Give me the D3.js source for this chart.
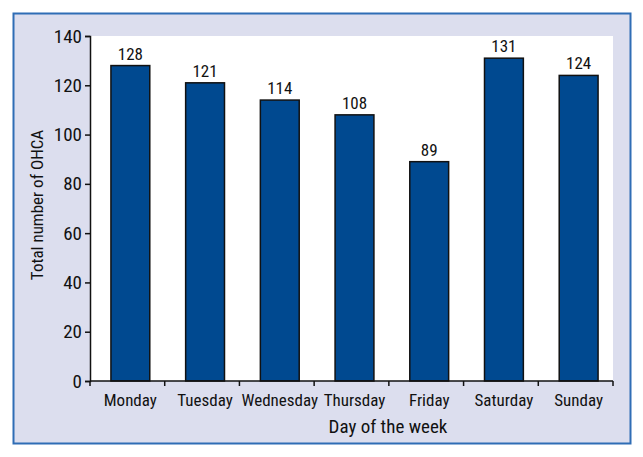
<!DOCTYPE html>
<html>
<head>
<meta charset="utf-8">
<script src="https://cdn.jsdelivr.net/npm/d3@7"></script>
<style>
  body { margin: 0; background: #fff; }
  text { font-family: "Liberation Sans Narrow", "Roboto Condensed", "Liberation Sans", sans-serif; fill: #111; }
</style>
</head>
<body>
<div id="chart"></div>
<script>
// data
var days = ["Monday", "Tuesday", "Wednesday", "Thursday", "Friday", "Saturday", "Sunday"]
var totals = [128, 121, 114, 108, 89, 131, 124]
var yTicks = [0, 20, 40, 60, 80, 100, 120, 140]

var svgWidth = 643
var svgHeight = 457

var margin = { top: 36, right: 30, bottom: 76, left: 90 }
var width = 613 - margin.left
var height = 381 - margin.top

var svg = d3.select("#chart")
  .append("svg")
  .attr("width", svgWidth)
  .attr("height", svgHeight)

// outer frame
svg.append("rect")
  .attr("x", 13.5)
  .attr("y", 13.5)
  .attr("width", 617)
  .attr("height", 430)
  .attr("fill", "#dcdeee")
  .attr("stroke", "#2f6db5")
  .attr("stroke-width", 2)

var chartGroup = svg.append("g")
  .attr("transform", `translate(${margin.left}, ${margin.top})`)

// white plot area
chartGroup.append("rect")
  .attr("width", width)
  .attr("height", height)
  .attr("fill", "#fff")

// category boundaries (axis ticks) and bars, bars sit a little right of centre
var xEdges = d3.scaleBand()
  .domain(days)
  .range([0, width])

var xScale = d3.scaleBand()
  .domain(days)
  .range([3, width + 3])
  .paddingInner(0.48)
  .paddingOuter(0.24)

var yScale = d3.scaleLinear()
  .domain([0, 140])
  .range([height, 0])

// bars
chartGroup.selectAll("rect.bar")
  .data(days)
  .enter()
  .append("rect")
  .attr("class", "bar")
  .attr("x", d => xScale(d))
  .attr("y", (d, i) => yScale(totals[i]))
  .attr("width", xScale.bandwidth())
  .attr("height", (d, i) => height - yScale(totals[i]))
  .attr("fill", "#004990")
  .attr("stroke", "#111")
  .attr("stroke-width", 1.5)

// value labels
chartGroup.selectAll("text.val")
  .data(days)
  .enter()
  .append("text")
  .attr("class", "val")
  .attr("x", d => xScale(d) + xScale.bandwidth() / 2)
  .attr("y", (d, i) => yScale(totals[i]) - 6)
  .attr("text-anchor", "middle")
  .style("font-size", "17px")
  .text((d, i) => totals[i])

// y axis
var leftAxis = d3.axisLeft(yScale)
  .tickValues(yTicks)
  .tickSize(5)
  .tickPadding(3)

var yAxisG = chartGroup.append("g")
  .call(leftAxis)
yAxisG.select(".domain").attr("stroke", "#111").attr("stroke-width", 1.5)
yAxisG.selectAll(".tick line").attr("stroke", "#111").attr("stroke-width", 1.5)
yAxisG.selectAll(".tick text").style("font-size", "19px").attr("fill", "#111")

// x axis, ticks on category boundaries
var xAxisG = chartGroup.append("g")
  .attr("transform", `translate(0, ${height})`)

xAxisG.append("line")
  .attr("x1", 0)
  .attr("x2", width)
  .attr("stroke", "#111")
  .attr("stroke-width", 1.5)

var edges = days.map(d => xEdges(d)).concat([width])

xAxisG.selectAll("line.tk")
  .data(edges)
  .enter()
  .append("line")
  .attr("class", "tk")
  .attr("x1", d => d)
  .attr("x2", d => d)
  .attr("y1", 0)
  .attr("y2", 5)
  .attr("stroke", "#111")
  .attr("stroke-width", 1.5)

xAxisG.selectAll("text")
  .data(days)
  .enter()
  .append("text")
  .attr("x", d => xScale(d) + xScale.bandwidth() / 2)
  .attr("y", 25)
  .attr("text-anchor", "middle")
  .style("font-size", "17px")
  .text(d => d)

// axis titles
svg.append("text")
  .attr("x", 388)
  .attr("y", 433)
  .attr("text-anchor", "middle")
  .style("font-size", "19px")
  .text("Day of the week")

svg.append("text")
  .attr("transform", "translate(43, 205) rotate(-90)")
  .attr("text-anchor", "middle")
  .style("font-size", "17px")
  .text("Total number of OHCA")
</script>
</body>
</html>
